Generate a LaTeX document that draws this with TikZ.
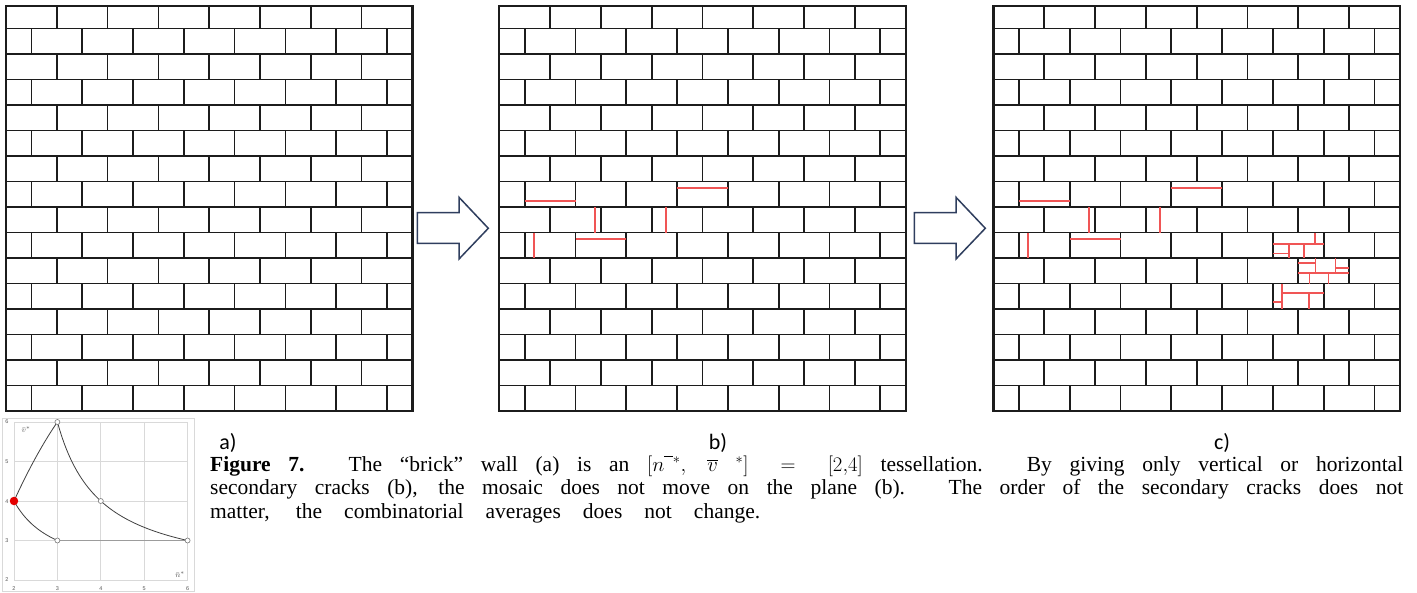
\documentclass[tikz,border=0pt]{standalone}
\usepackage{fontspec}
\setmainfont{Liberation Serif}
\newfontfamily\labfont{Carlito}
\newfontfamily\chartfont{Liberation Sans}
\definecolor{wallc}{RGB}{28,28,28}
\definecolor{crackc}{RGB}{240,85,85}
\definecolor{arrowc}{RGB}{47,62,94}
\definecolor{gridc}{RGB}{217,217,217}
\definecolor{curvec}{RGB}{64,64,64}
\definecolor{tickc}{RGB}{89,89,89}
\tikzset{
  wallline/.style={draw=wallc, line width=1.7pt},
  wallborder/.style={draw=wallc, line width=2.3pt},
  crack/.style={draw=crackc, line width=1.7pt},
  blockarr/.style={draw=arrowc, line width=1.5pt, fill=white, line join=miter},
  sublabel/.style={font=\labfont\fontsize{22}{24}\selectfont, inner sep=0pt},
  capline/.style={font=\fontsize{21.5}{24}\selectfont, inner sep=0pt, anchor=base west},
  gridline/.style={draw=gridc, line width=0.7pt},
  curve/.style={draw=curvec, line width=0.8pt},
  ticklab/.style={font=\chartfont\fontsize{5.5}{6}\selectfont, text=tickc, inner sep=0pt},
  axlab/.style={font=\fontsize{8}{9}\selectfont, text=tickc, inner sep=0pt},
  opendot/.style={circle, draw=curvec!70, fill=white, line width=0.6pt, inner sep=0pt, minimum size=5pt},
  reddot/.style={circle, fill=red!90!black, inner sep=0pt, minimum size=8.5pt}
}
\newcommand\brickwall[1]{%
  \begin{scope}[shift={(#1,0)}]
    \foreach \k in {1,...,15} {
      \draw[wallline] (0,{411-25.5*\k}) -- (406.4,{411-25.5*\k});
    }
    \foreach \r in {1,...,16} {
      \pgfmathsetmacro\yt{\r==1 ? 6 : 28.5+25.5*(\r-2)}
      \pgfmathsetmacro\yb{28.5+25.5*(\r-1)}
      \pgfmathtruncatemacro\rpar{mod(\r,2)}
      \ifnum\rpar=1
        \foreach \k in {1,...,7} {\draw[wallline] ({50.8*\k},\yt) -- ({50.8*\k},\yb);}
      \else
        \foreach \k in {0,...,7} {\draw[wallline] ({25.4+50.8*\k},\yt) -- ({25.4+50.8*\k},\yb);}
      \fi
    }
    \draw[wallborder] (0,6) rectangle (406.4,411);
  \end{scope}}
\newcommand\basecracks[1]{%
  \begin{scope}[shift={(#1,0)}]
    \draw[crack] (25.4,201) -- (76.2,201);
    \draw[crack] (177.8,188.3) -- (228.6,188.3);
    \draw[crack] (95.7,207) -- (95.7,232.5);
    \draw[crack] (166.4,207) -- (166.4,232.5);
    \draw[crack] (34.7,232.5) -- (34.7,258);
    \draw[crack] (76.2,239.3) -- (127,239.3);
  \end{scope}}
\newcommand\blockarrow[1]{%
  \begin{scope}[shift={(#1,0)}]
    \draw[blockarr] (417.3,212.7) -- (459,212.7) -- (459,197.3) -- (488.3,228.3)
      -- (459,259) -- (459,243.3) -- (417.3,243.3) -- cycle;
  \end{scope}}
\begin{document}
\begin{tikzpicture}[x=1pt, y=-1pt]
  \useasboundingbox[fill=white] (0,0) rectangle (1417,592);
  % walls
  \brickwall{6}
  \brickwall{499.3}
  \brickwall{993.5}
  % cracks
  \basecracks{499.3}
  \basecracks{993.5}
  \begin{scope}[shift={(993.5,0)}]
    % brick A
    \draw[crack] (279.4,244.2) -- (330.2,244.2);
    \draw[crack] (321.5,232.5) -- (321.5,244.2);
    \draw[crack] (295.5,244.2) -- (295.5,258);
    \draw[crack] (310.8,244.2) -- (310.8,258);
    \draw[crack] (279.4,253.5) -- (295.5,253.5);
    % brick B
    \draw[crack] (304.8,263) -- (322,263);
    \draw[crack] (322,258) -- (322,272.8);
    \draw[crack] (304.8,272.8) -- (355.6,272.8);
    \draw[crack] (342,258) -- (342,272.8);
    \draw[crack] (342,268.3) -- (355.6,268.3);
    \draw[crack] (316,272.8) -- (316,283.5);
    \draw[crack] (335,272.8) -- (335,283.5);
    % brick C
    \draw[crack] (288.7,283.5) -- (288.7,309);
    \draw[crack] (288.7,293.2) -- (330.2,293.2);
    \draw[crack] (315.2,293.2) -- (315.2,309);
    \draw[crack] (279.4,302.2) -- (288.7,302.2);
  \end{scope}
  % arrows
  \blockarrow{0}
  \blockarrow{497}
  % sub labels
  \node[sublabel] (la) at (228,443) {a)};
  \node[sublabel] (lb) at (718,443) {b)};
  \node[sublabel] (lc) at (1222,443) {c)};
  % caption
  \node[capline] (cap1) at (210,471) {\makebox[1193pt][s]{\textbf{Figure 7.} The “brick” wall (a) is an $[n^{\overline{\phantom{n}}*},\ \overline{v}\ ^{*}] = [2{,}4]$ tessellation. By giving only vertical or horizontal}};
  \node[capline] (cap2) at (210,494.5) {\makebox[1193pt][s]{secondary cracks (b), the mosaic does not move on the plane (b). The order of the secondary cracks does not}};
  \node[capline] (cap3) at (210,518) {\makebox[550pt][s]{matter, the combinatorial averages does not change.}};
  % inset chart
  \draw[gridc, line width=0.8pt] (2.5,418.5) rectangle (194.5,591.5);
  \begin{scope}[shift={(14,580)}, x=43.4pt, y=39.5pt]
    \foreach \i in {0,...,4} {
      \draw[gridline] (\i,0) -- (\i,4);
      \draw[gridline] (0,\i) -- (4,\i);
    }
    \draw[draw=gridc!60!curvec, line width=1.3pt] (1,1) -- (4,1);
    \draw[curve] plot[domain=3:6, samples=60] ({\x-2}, {2*\x/(\x-2)-2});
    \draw[curve] plot[domain=2:3, samples=40] ({\x-2}, {2*\x/(\x-1)-2});
    \draw[curve] plot[domain=2:3, samples=40] ({\x-2}, {2*\x+0.4*(\x-2)*(3-\x)-2});
    \node[opendot] (p36) at (1,4) {};
    \node[opendot] (p44) at (2,2) {};
    \node[opendot] (p33) at (1,1) {};
    \node[opendot] (p63) at (4,1) {};
    \node[reddot] (p24) at (0,2) {};
  \end{scope}
  \node[ticklab] (ty6) at (7,422) {6};
  \node[ticklab] (ty5) at (7,462) {5};
  \node[ticklab] (ty4) at (7,501.5) {4};
  \node[ticklab] (ty3) at (7,541) {3};
  \node[ticklab] (ty2) at (7,580) {2};
  \node[ticklab] (tx2) at (14,589) {2};
  \node[ticklab] (tx3) at (57.4,589) {3};
  \node[ticklab] (tx4) at (100.8,589) {4};
  \node[ticklab] (tx5) at (144.2,589) {5};
  \node[ticklab] (tx6) at (187.6,589) {6};
  \node[axlab] (av) at (26,430) {$\bar{v}^{*}$};
  \node[axlab] (an) at (180,575) {$\bar{n}^{*}$};
\end{tikzpicture}
\end{document}
